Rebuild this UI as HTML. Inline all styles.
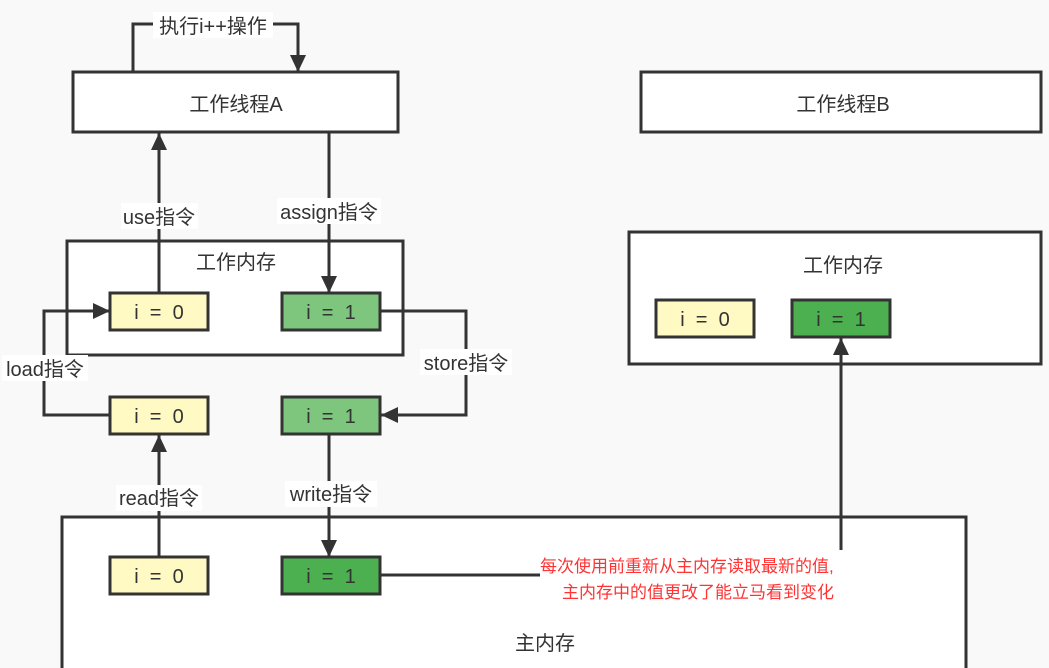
<!DOCTYPE html>
<html><head><meta charset="utf-8"><style>
html,body{margin:0;padding:0;background:#f9f9f9;}
svg{display:block;}
text{font-family:"Liberation Sans","Noto Sans CJK SC",sans-serif;fill:#333;font-size:20px;}
</style></head><body>
<svg width="1049" height="668" viewBox="0 0 1049 668" xmlns="http://www.w3.org/2000/svg">
<defs>
<marker id="b" markerWidth="18" markerHeight="18" refX="17" refY="9" orient="auto" markerUnits="userSpaceOnUse" viewBox="0 0 18 18"><path d="M0,1 L17,9 L0,17 z" fill="#333"/></marker></defs>
<g stroke="#333" stroke-width="3" fill="#fff">
<rect x="73" y="72" width="325" height="60"/>
<rect x="641" y="72" width="400" height="60"/>
<rect x="67" y="241" width="336" height="114"/>
<rect x="629" y="232" width="412" height="132"/>
<rect x="62" y="517" width="904" height="160"/>
</g>
<g stroke="#333" stroke-width="3" fill="none">
<polyline points="133,72 133,24 298,24 298,72" marker-end="url(#b)"/>
<line x1="159" y1="293" x2="159" y2="133" marker-end="url(#b)"/>
<line x1="329" y1="132" x2="329" y2="293" marker-end="url(#b)"/>
<polyline points="110,415 44,415 44,311 110,311" marker-end="url(#b)"/>
<polyline points="380,311 466,311 466,415 381,415" marker-end="url(#b)"/>
<line x1="159" y1="557" x2="159" y2="435" marker-end="url(#b)"/>
<line x1="329" y1="434" x2="329" y2="557" marker-end="url(#b)"/>
<line x1="380" y1="575" x2="540" y2="575"/>
<line x1="841" y1="550" x2="841" y2="338" marker-end="url(#b)"/>
</g>
<g stroke="#333" stroke-width="3">
<rect x="110" y="293" width="98" height="37" fill="#fff9c4"/>
<rect x="282" y="293" width="98" height="37" fill="#7ec57e"/>
<rect x="110" y="397" width="98" height="37" fill="#fff9c4"/>
<rect x="282" y="397" width="98" height="37" fill="#7ec57e"/>
<rect x="110" y="557" width="98" height="37" fill="#fff9c4"/>
<rect x="282" y="557" width="98" height="37" fill="#4caf50"/>
<rect x="656" y="300" width="98" height="37" fill="#fff9c4"/>
<rect x="792" y="300" width="98" height="37" fill="#4caf50"/>
</g>
<g fill="#fff">
<rect x="153" y="12" width="120" height="26"/>
<rect x="121" y="203" width="77" height="26"/>
<rect x="277" y="198" width="104" height="26"/>
<rect x="2" y="355" width="86" height="26"/>
<rect x="420" y="349" width="92" height="26"/>
<rect x="116" y="485" width="86" height="26"/>
<rect x="285" y="481" width="92" height="26"/>
</g>
<g text-anchor="middle">
<text x="213" y="33">执行i++操作</text>
<text x="236" y="111">工作线程A</text>
<text x="843" y="111">工作线程B</text>
<text x="236" y="269">工作内存</text>
<text x="843" y="272">工作内存</text>
<text x="159" y="224">use指令</text>
<text x="329" y="219">assign指令</text>
<text x="45" y="376">load指令</text>
<text x="466" y="370">store指令</text>
<text x="159" y="505">read指令</text>
<text x="331" y="501">write指令</text>
<text x="159" y="319" xml:space="preserve">i  =  0</text>
<text x="331" y="319" xml:space="preserve">i  =  1</text>
<text x="159" y="423" xml:space="preserve">i  =  0</text>
<text x="331" y="423" xml:space="preserve">i  =  1</text>
<text x="159" y="583" xml:space="preserve">i  =  0</text>
<text x="331" y="583" xml:space="preserve">i  =  1</text>
<text x="705" y="326" xml:space="preserve">i  =  0</text>
<text x="841" y="326" xml:space="preserve">i  =  1</text>
<text x="545" y="650">主内存</text>
</g>
<text x="540" y="572" style="fill:#ff3333;font-size:17px">每次使用前重新从主内存读取最新的值,</text>
<text x="562" y="598" style="fill:#ff3333;font-size:17px">主内存中的值更改了能立马看到变化</text>
</svg>
</body></html>
